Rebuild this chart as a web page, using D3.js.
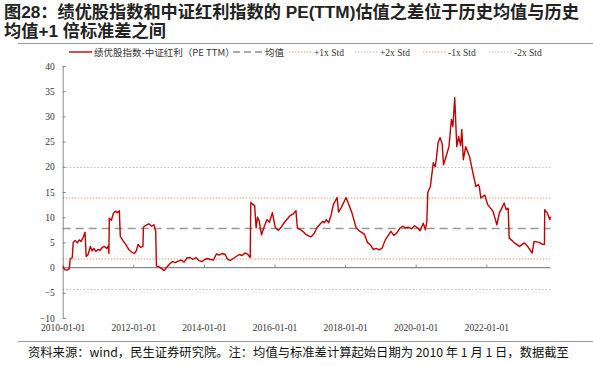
<!DOCTYPE html>
<html>
<head>
<meta charset="utf-8">
<script src="https://cdn.jsdelivr.net/npm/d3@7"></script>
<style>
  body { margin: 0; background: #fff; }
  svg { display: block; }
</style>
</head>
<body>
<svg width="593" height="365"></svg>
<script>
// PE(TTM) difference
var dates = [
  "2010-01-04","2010-01-20","2010-02-15","2010-03-10","2010-03-20","2010-04-10","2010-04-20","2010-05-10","2010-06-01","2010-06-20",
  "2010-07-10","2010-08-01","2010-08-20","2010-09-01","2010-09-20","2010-10-15","2010-11-01","2010-11-20","2010-12-10","2011-01-01",
  "2011-01-20","2011-02-15","2011-03-10","2011-04-01","2011-04-18","2011-04-24","2011-04-28","2011-05-20","2011-06-10","2011-07-01",
  "2011-07-20","2011-08-10","2011-08-20","2011-09-15","2011-10-15","2011-11-15","2011-12-15","2012-01-10","2012-02-01","2012-02-20",
  "2012-03-15","2012-04-10","2012-04-15","2012-05-10","2012-06-10","2012-07-10","2012-08-01","2012-08-20","2012-08-28","2012-09-20",
  "2012-10-20","2012-11-15","2012-12-10","2013-01-10","2013-02-10","2013-03-10","2013-04-10","2013-05-10","2013-06-10","2013-07-10",
  "2013-08-10","2013-09-10","2013-10-10","2013-11-10","2013-12-10","2014-01-10","2014-02-10","2014-03-10","2014-04-10","2014-05-10",
  "2014-06-10","2014-07-10","2014-08-10","2014-09-01","2014-10-01","2014-11-01","2014-12-01","2015-01-01","2015-02-01","2015-03-01",
  "2015-04-01","2015-04-25","2015-05-01","2015-05-20","2015-06-10","2015-06-25","2015-07-10","2015-07-25","2015-08-20","2015-09-20",
  "2015-10-15","2015-11-10","2015-12-10","2016-01-10","2016-02-10","2016-03-10","2016-04-10","2016-05-10","2016-06-10","2016-07-10",
  "2016-08-10","2016-08-25","2016-09-20","2016-10-20","2016-11-20","2016-12-20","2017-01-15","2017-02-15","2017-03-15","2017-04-15",
  "2017-05-15","2017-06-01","2017-06-20","2017-07-15","2017-08-10","2017-09-01","2017-10-10","2017-10-25","2017-11-25","2018-01-10",
  "2018-02-10","2018-03-10","2018-04-25","2018-05-20","2018-06-20","2018-07-20","2018-08-20","2018-09-20","2018-10-20","2018-11-20",
  "2018-12-20","2019-01-20","2019-02-20","2019-03-20","2019-04-20","2019-05-20","2019-06-20","2019-07-20","2019-08-20","2019-09-20",
  "2019-10-20","2019-11-20","2019-12-20","2020-01-20","2020-02-15","2020-03-20","2020-04-10","2020-04-25","2020-05-05","2020-06-01",
  "2020-07-01","2020-07-20","2020-08-01","2020-08-20","2020-09-10","2020-10-01","2020-10-15","2020-11-10","2020-12-10","2021-01-05",
  "2021-01-20","2021-02-08","2021-03-01","2021-03-20","2021-04-10","2021-04-22","2021-05-08","2021-06-01","2021-07-10","2021-08-15",
  "2021-09-15","2021-10-10","2021-10-20","2021-11-05","2021-12-15","2022-01-15","2022-03-10","2022-04-20","2022-05-15","2022-07-05",
  "2022-07-25","2022-08-15","2022-08-25","2022-10-20","2022-12-10","2023-01-30","2023-03-01","2023-04-20","2023-05-10","2023-07-01",
  "2023-08-05","2023-08-25","2023-08-28","2023-09-25","2023-10-20","2023-10-27"
];
var values = [
  0.2,-0.4,-0.5,-0.2,1.7,2.0,5.0,5.4,4.9,5.5,
  5.2,6.0,7.0,2.2,2.6,4.2,3.3,3.8,3.2,3.6,
  3.4,4.0,4.2,3.8,4.3,2.8,9.8,9.4,10.8,11.2,
  10.9,11.3,6.2,5.4,4.6,3.6,3.1,2.8,3.3,4.6,
  4.0,4.2,8.0,8.4,8.7,8.2,8.5,7.2,0.3,0.2,
  -0.2,-0.6,0.0,0.7,1.2,1.0,1.3,1.5,1.1,1.9,
  2.0,1.6,2.0,1.4,1.2,1.6,1.8,1.6,1.5,2.7,
  2.5,2.8,2.6,1.7,1.4,1.8,2.2,2.6,2.4,2.9,
  2.6,2.0,12.9,12.6,12.3,7.9,10.0,9.4,6.5,8.3,
  9.5,9.0,10.9,7.9,7.4,8.0,8.9,9.6,10.3,10.6,
  11.3,7.9,7.6,7.2,6.6,6.3,6.1,6.8,7.9,8.6,
  9.2,8.9,9.5,8.9,10.5,12.5,13.9,11.0,12.0,13.9,
  12.4,11.0,7.9,7.4,7.0,6.6,5.0,4.5,3.6,3.8,
  3.5,3.9,5.5,6.3,7.2,6.4,6.9,7.8,8.2,7.9,
  8.0,7.7,8.3,7.9,7.3,8.8,7.5,9.0,14.9,16.1,
  20.8,20.0,21.4,24.8,25.8,24.6,20.4,22.0,24.0,29.4,
  28.0,33.7,24.0,26.0,24.2,27.4,21.4,24.0,22.1,18.8,
  16.1,16.5,16.1,13.8,14.4,12.5,11.2,8.5,10.8,12.8,
  11.5,11.8,5.9,4.9,4.2,4.9,4.3,2.9,5.2,5.0,
  4.6,4.6,11.5,10.8,9.5,10.1
];
var meanVal = 7.75, stdVal = 6.05;
var yTicks = [-10, -5, 0, 5, 10, 15, 20, 25, 30, 35, 40];
var xTickDates = ["2010-01-01","2012-01-01","2014-01-01","2016-01-01","2018-01-01","2020-01-01","2022-01-01"];

var parse = d3.timeParse("%Y-%m-%d");
var data = dates.map(function(d, i) { return {date: parse(d), value: values[i]}; });
var lastDate = data[data.length - 1].date;

var svg = d3.select("svg");
var serif = "'Liberation Serif', 'DejaVu Serif', serif";
var cjk = "'Noto Sans CJK SC', sans-serif";
var titleFont = "'Liberation Sans', 'Noto Sans CJK SC', sans-serif";

var x = d3.scaleTime()
    .domain([parse("2010-01-01"), parse("2024-01-01")])
    .range([62.7, 62.7 + 14 * 35.3]);
var y = d3.scaleLinear().domain([-10, 40]).range([318, 66]);

// title
svg.append("text")
    .attr("x", 4).attr("y", 17.5)
    .attr("font-family", titleFont).attr("font-weight", "bold")
    .attr("font-size", 17.2).attr("fill", "#222")
    .text("图28：绩优股指数和中证红利指数的 PE(TTM)估值之差位于历史均值与历史");
svg.append("text")
    .attr("x", 4).attr("y", 36.5)
    .attr("font-family", titleFont).attr("font-weight", "bold")
    .attr("font-size", 17.2).attr("fill", "#222")
    .text("均值+1 倍标准差之间");

svg.append("line").attr("x1", 18).attr("x2", 593).attr("y1", 43.5).attr("y2", 43.5)
    .attr("stroke", "#999").attr("stroke-width", 1);

// reference lines
var refs = [
  {v: meanVal + 2 * stdVal, color: "#bbbbbb", dash: "1.5,2", w: 1},
  {v: meanVal + stdVal, color: "#e0a070", dash: "1.5,1.5", w: 1},
  {v: meanVal - stdVal, color: "#e0a070", dash: "1.5,1.5", w: 1},
  {v: meanVal - 2 * stdVal, color: "#bbbbbb", dash: "1.5,2", w: 1},
  {v: meanVal, color: "#999999", dash: "8,5", w: 1.6}
];
svg.append("g").selectAll("line").data(refs).enter().append("line")
    .attr("x1", x.range()[0]).attr("x2", x(lastDate))
    .attr("y1", function(d) { return y(d.v); })
    .attr("y2", function(d) { return y(d.v); })
    .attr("stroke", function(d) { return d.color; })
    .attr("stroke-width", function(d) { return d.w; })
    .attr("stroke-dasharray", function(d) { return d.dash; });

// y axis
var yAxis = svg.append("g")
    .attr("transform", "translate(" + x.range()[0] + ",0)")
    .call(d3.axisRight(y).tickValues(yTicks).tickSize(3).tickFormat(d3.format("d")));
yAxis.select(".domain").attr("stroke", "#888");
yAxis.selectAll(".tick line").attr("stroke", "#888");
yAxis.selectAll("text")
    .attr("x", -8).attr("text-anchor", "end")
    .attr("font-family", serif).attr("font-size", 9.5).attr("fill", "#333");

// x axis along zero line
var xAxis = svg.append("g")
    .attr("transform", "translate(0," + y(0) + ")")
    .call(d3.axisTop(x).tickValues(xTickDates.map(parse)).tickSize(3).tickFormat(d3.timeFormat("%Y-%m-%d")));
xAxis.select(".domain").attr("d", "M" + x.range()[0] + ",0H" + x(lastDate)).attr("stroke", "#888").attr("stroke-width", 1.2);
xAxis.selectAll(".tick line").attr("stroke", "#888");
xAxis.selectAll("text")
    .attr("y", y(-10) - y(0) + 13.5)
    .attr("font-family", serif).attr("font-size", 9.5).attr("fill", "#333");

// data line
svg.append("path").datum(data)
    .attr("fill", "none").attr("stroke", "#c00000").attr("stroke-width", 1.4)
    .attr("stroke-linejoin", "round")
    .attr("d", d3.line().x(function(d) { return x(d.date); }).y(function(d) { return y(d.value); }));

// legend
var legendItems = [
  {label: "绩优股指数-中证红利（PE TTM）", x: 69, w: 23, color: "#c00000", dash: null, sw: 1.4},
  {label: "均值", x: 233, w: 30, color: "#555", dash: "7,4", sw: 1.2},
  {label: "+1x Std", x: 289, w: 23, color: "#e0a070", dash: "1.5,1.5", sw: 1},
  {label: "+2x Std", x: 355, w: 23, color: "#bbbbbb", dash: "1.5,1.5", sw: 1},
  {label: "-1x Std", x: 423, w: 23, color: "#e0a070", dash: "1.5,1.5", sw: 1},
  {label: "-2x Std", x: 489, w: 23, color: "#bbbbbb", dash: "1.5,1.5", sw: 1}
];
var lg = svg.append("g").selectAll("g").data(legendItems).enter().append("g");
lg.append("line")
    .attr("x1", function(d) { return d.x; })
    .attr("x2", function(d) { return d.x + d.w; })
    .attr("y1", 52).attr("y2", 52)
    .attr("stroke", function(d) { return d.color; })
    .attr("stroke-width", function(d) { return d.sw; })
    .attr("stroke-dasharray", function(d) { return d.dash; });
lg.append("text")
    .attr("x", function(d) { return d.x + d.w + 2; })
    .attr("y", 55.5)
    .attr("font-family", function(d, i) { return i < 2 ? cjk : serif; })
    .attr("font-size", 9.5).attr("fill", "#333")
    .text(function(d) { return d.label; });

// footer
svg.append("line").attr("x1", 18).attr("x2", 593).attr("y1", 341.5).attr("y2", 341.5)
    .attr("stroke", "#999").attr("stroke-width", 1);
svg.append("text")
    .attr("x", 28).attr("y", 357)
    .attr("font-family", cjk).attr("font-size", 12.3).attr("fill", "#111")
    .text("资料来源：wind，民生证券研究院。注：均值与标准差计算起始日期为 2010 年 1 月 1 日，数据截至");
</script>
</body>
</html>
